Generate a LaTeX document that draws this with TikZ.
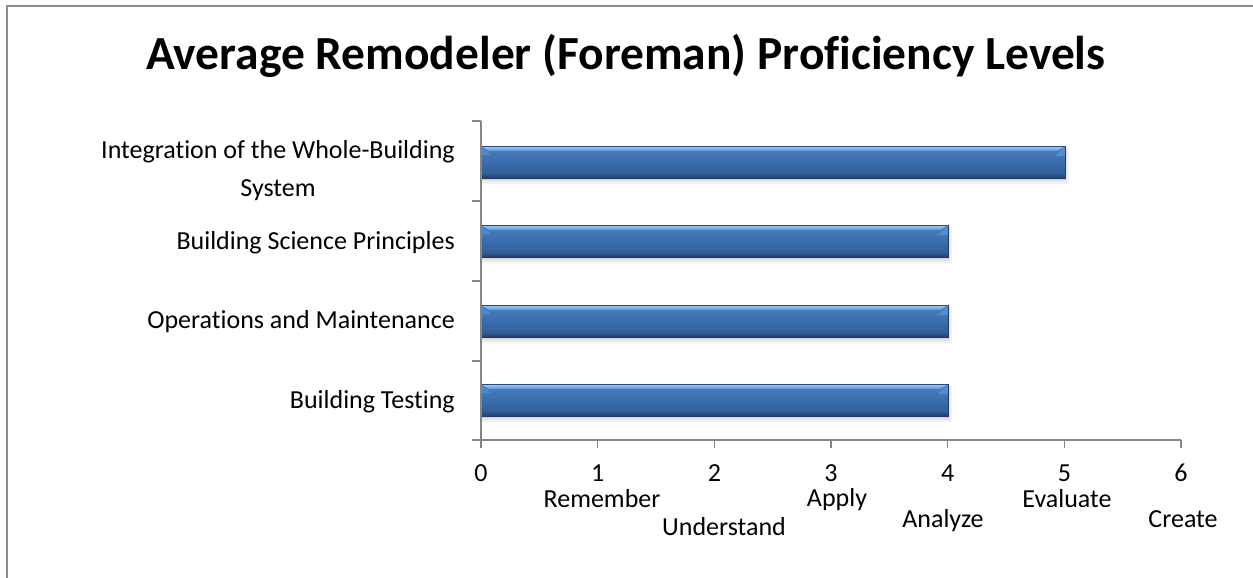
\documentclass[tikz,border=0pt]{standalone}
\usepackage{fontspec}
\setmainfont{Carlito}[Ligatures=NoCommon]
\definecolor{axisgray}{HTML}{868686}
\definecolor{framegray}{HTML}{8C8C8C}
\definecolor{barTop}{HTML}{4A80C2}
\definecolor{barMid}{HTML}{3A6DAE}
\definecolor{barBot}{HTML}{2C5892}
\definecolor{hiA}{HTML}{A4CFF8}
\definecolor{hiB}{HTML}{5B93D4}
\definecolor{barEdge}{HTML}{1F3D68}
\tikzset{
  axisline/.style={draw=axisgray, line width=1.3pt},
  catlabel/.style={font=\fontsize{26}{38}\selectfont, anchor=base east, inner sep=0pt, align=center},
  ticklabel/.style={font=\fontsize{26}{30}\selectfont, anchor=base, inner sep=0pt},
  titletext/.style={font=\bfseries\fontsize{47.5}{52}\selectfont, anchor=base, inner sep=0pt}
}
\newcommand{\drawbar}[2]{%
  % shadow
  \fill[black,opacity=0.05] (482,#2+2) rectangle (#1+4,#2+38);
  \fill[black,opacity=0.06] (482,#2+2) rectangle (#1+2,#2+36);
  \fill[black,opacity=0.08] (482,#2+2) rectangle (#1+1,#2+34);
  % body
  \shade[top color=barTop, bottom color=barBot, middle color=barMid] (481,#2) rectangle (#1,#2+32);
  % top highlight band
  \shade[top color=hiA, bottom color=hiB] (481,#2) -- (#1,#2) -- (#1-8,#2+5) -- (489,#2+5) -- cycle;
  % left top corner bevel
  \fill[hiB!70!barMid] (481,#2) -- (491,#2+9) -- (481,#2+9) -- cycle;
  % right top corner bevel
  \fill[hiB!85!barMid] (#1,#2) -- (#1,#2+10) -- (#1-10,#2+10) -- cycle;
  % bottom dark band
  \shade[top color=barBot, bottom color=barEdge] (481,#2+32) -- (#1,#2+32) -- (#1-3,#2+28) -- (484,#2+28) -- cycle;
  \draw[barEdge, line width=0.9pt] (481,#2+32) -- (#1,#2+32) -- (#1,#2);
  \draw[barEdge!70!barMid, line width=0.6pt] (481,#2) -- (#1,#2);
}
\begin{document}
\begin{tikzpicture}[x=1pt,y=-1pt]
\useasboundingbox (0,0) rectangle (1253,578);
% frame
\draw[framegray, line width=1.6pt] (7,6) rectangle (1270,595);
% title
\node[titletext] (title) at (626,70) {Average Remodeler (Foreman) Proficiency Levels};
% bars
\drawbar{1065}{146}
\drawbar{948}{225}
\drawbar{948}{305}
\drawbar{948}{384}
% axes
\coordinate (ytop) at (481,121);
\coordinate (origin) at (481,440);
\coordinate (xend) at (1181,440);
\draw[axisline] (ytop) -- (origin) -- (xend);
\foreach \yy in {121,201,281,361,440} {
  \draw[axisline] (472,\yy) -- (481,\yy);
}
\foreach \i in {0,...,6} {
  \draw[axisline] (481+116.67*\i,440) -- (481+116.67*\i,448);
  \node[ticklabel] (t\i) at (481+116.67*\i,481) {\i};
}
% level names
\node[ticklabel] (remember) at (602,507) {Remember};
\node[ticklabel] (understand) at (724,535) {Understand};
\node[ticklabel] (apply) at (837,506) {Apply};
\node[ticklabel] (analyze) at (943,527) {Analyze};
\node[ticklabel] (evaluate) at (1067,507) {Evaluate};
\node[ticklabel] (create) at (1183,527) {Create};
% category labels
\node[catlabel] (c1) at (455,196) {Integration of the Whole-Building\\System};
\node[catlabel] (c2) at (455,249) {Building Science Principles};
\node[catlabel] (c3) at (455,328) {Operations and Maintenance};
\node[catlabel] (c4) at (455,408) {Building Testing};
\end{tikzpicture}
\end{document}
